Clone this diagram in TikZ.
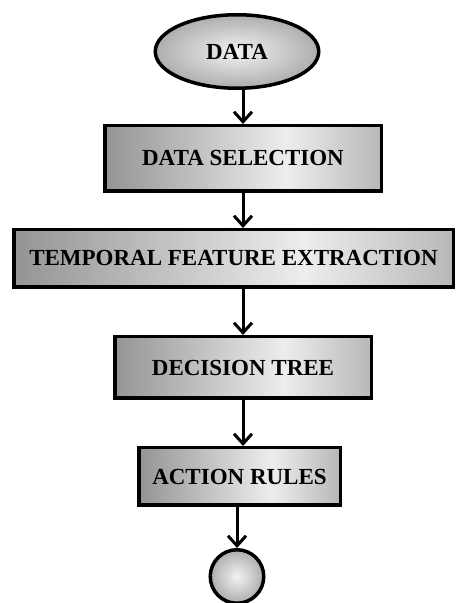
\documentclass[tikz,border=0pt]{standalone}
\usepackage{fontspec}
\setmainfont{Liberation Serif}
\usepackage{tikz}
\usetikzlibrary{shapes.geometric,arrows.meta}
\pgfdeclarehorizontalshading{boxshade}{100bp}{color(0bp)=(black!42); color(25bp)=(black!42);
    color(58bp)=(black!7); color(75bp)=(black!28); color(100bp)=(black!28)}
\tikzstyle{block} = [draw, rectangle, line width=3.5pt, shading=boxshade,
    inner sep=0pt, font=\bfseries\fontsize{23}{27}\selectfont, text=black]
\tikzstyle{terminal} = [draw, ellipse, line width=3.5pt, inner color=black!5,
    outer color=black!32, inner sep=0pt, font=\bfseries\fontsize{23}{27}\selectfont, text=black]
\tikzstyle{stop} = [draw, circle, line width=3.5pt, inner color=black!5,
    outer color=black!32, minimum size=53.5pt, inner sep=0pt]
\tikzstyle{line} = [draw, line width=3pt, ->]

\begin{document}
\begin{tikzpicture}[x=1pt, y=1pt, >={Straight Barb[length=10pt,width=18pt]}]
        \useasboundingbox (0,0) rectangle (456,603);
        % We start by placing the blocks
        \node [terminal, minimum width=163.5pt, minimum height=73.5pt] (data) at (237,551.5) {DATA};
        \node [block, below of=data, node distance=107pt, xshift=6pt,
            minimum width=276.5pt, minimum height=65.5pt] (selection) {DATA SELECTION};
        \node [block, below of=selection, node distance=100pt, xshift=-9.5pt,
            minimum width=439.5pt, minimum height=57.5pt] (extraction) {TEMPORAL FEATURE EXTRACTION};
        \node [block, below of=extraction, node distance=109pt, xshift=9.5pt,
            minimum width=256.5pt, minimum height=61.5pt] (tree) {DECISION TREE};
        \node [block, below of=tree, node distance=109pt, xshift=-3.5pt,
            minimum width=201.5pt, minimum height=57.5pt] (rules) {ACTION RULES};
        \node [stop, below of=rules, node distance=100pt, xshift=-2.5pt] (end) {};

        % Once the nodes are placed, connecting them is easy.
        \draw [line] (data.south -| selection.north) -- (selection.north);
        \draw [line] (selection.south) -- (selection.south |- extraction.north);
        \draw [line] (tree.north |- extraction.south) -- (tree.north);
        \draw [line] (tree.south) -- (tree.south |- rules.north);
        \draw [line] (end.north |- rules.south) -- (end.north);
\end{tikzpicture}
\end{document}
